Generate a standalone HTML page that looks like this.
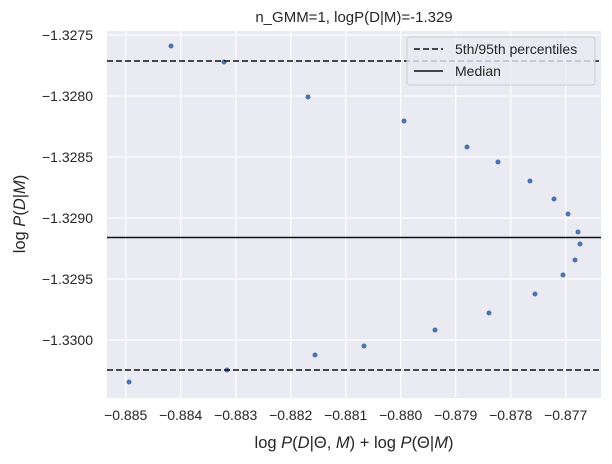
<!DOCTYPE html>
<html><head><style>body{margin:0;background:#fff}svg{display:block}text{font-family:"Liberation Sans",sans-serif;fill:#262626}</style></head><body>
<svg width="612" height="464" viewBox="0 0 612 464">
<rect x="107" y="31" width="494" height="367" fill="#eaeaf2"/>
<g stroke="#fff" stroke-width="1.2">
<line x1="125.7" y1="31" x2="125.7" y2="398"/><line x1="180.7" y1="31" x2="180.7" y2="398"/><line x1="235.7" y1="31" x2="235.7" y2="398"/><line x1="290.7" y1="31" x2="290.7" y2="398"/><line x1="345.7" y1="31" x2="345.7" y2="398"/><line x1="400.7" y1="31" x2="400.7" y2="398"/><line x1="455.7" y1="31" x2="455.7" y2="398"/><line x1="510.7" y1="31" x2="510.7" y2="398"/><line x1="565.7" y1="31" x2="565.7" y2="398"/>
<line x1="107" y1="35" x2="601" y2="35"/><line x1="107" y1="96" x2="601" y2="96"/><line x1="107" y1="157" x2="601" y2="157"/><line x1="107" y1="218" x2="601" y2="218"/><line x1="107" y1="279" x2="601" y2="279"/><line x1="107" y1="340" x2="601" y2="340"/>
</g>
<g fill="#4c72b0">
<circle cx="129" cy="382" r="2.5"/><circle cx="171" cy="46" r="2.5"/><circle cx="224" cy="62" r="2.5"/><circle cx="227" cy="370" r="2.5"/><circle cx="308" cy="97" r="2.5"/><circle cx="315" cy="355" r="2.5"/><circle cx="364" cy="346" r="2.5"/><circle cx="404" cy="121" r="2.5"/><circle cx="435" cy="330" r="2.5"/><circle cx="467" cy="147" r="2.5"/><circle cx="489" cy="313" r="2.5"/><circle cx="498" cy="162" r="2.5"/><circle cx="530" cy="181" r="2.5"/><circle cx="535" cy="294" r="2.5"/><circle cx="554" cy="199" r="2.5"/><circle cx="563" cy="275" r="2.5"/><circle cx="568" cy="214" r="2.5"/><circle cx="575" cy="260" r="2.5"/><circle cx="578" cy="232" r="2.5"/><circle cx="580" cy="244" r="2.5"/>
</g>
<g stroke="#111" stroke-width="1.6">
<line x1="107" y1="61" x2="601" y2="61" stroke-dasharray="6,3"/>
<line x1="107" y1="370" x2="601" y2="370" stroke-dasharray="6,3"/>
<line x1="107" y1="237.5" x2="601" y2="237.5"/>
</g>
<rect x="407" y="37" width="188" height="48" rx="3" fill="#eaeaf2" fill-opacity="0.8" stroke="#ccc"/>
<line x1="414" y1="49" x2="443" y2="49" stroke="#111" stroke-width="1.6" stroke-dasharray="6,3"/>
<line x1="414" y1="71" x2="443" y2="71" stroke="#111" stroke-width="1.6"/>
<text x="455" y="54" font-size="14">5th/95th percentiles</text>
<text x="455" y="76" font-size="14">Median</text>
<g font-size="14" text-anchor="end">
<text x="93" y="40">−1.3275</text><text x="93" y="101">−1.3280</text><text x="93" y="162">−1.3285</text><text x="93" y="223">−1.3290</text><text x="93" y="284">−1.3295</text><text x="93" y="345">−1.3300</text>
</g>
<g font-size="14" text-anchor="middle">
<text x="125.7" y="420">−0.885</text><text x="180.7" y="420">−0.884</text><text x="235.7" y="420">−0.883</text><text x="290.7" y="420">−0.882</text><text x="345.7" y="420">−0.881</text><text x="400.7" y="420">−0.880</text><text x="455.7" y="420">−0.879</text><text x="510.7" y="420">−0.878</text><text x="565.7" y="420">−0.877</text>
<text x="354" y="22" font-size="15">n_GMM=1, logP(D|M)=-1.329</text>
<text x="354" y="448" font-size="16.5">log <tspan font-style="italic">P</tspan>(<tspan font-style="italic">D</tspan>|Θ, <tspan font-style="italic">M</tspan>) + log <tspan font-style="italic">P</tspan>(Θ|<tspan font-style="italic">M</tspan>)</text>
<text transform="translate(25,214) rotate(-90)" font-size="16.5">log <tspan font-style="italic">P</tspan>(<tspan font-style="italic">D</tspan>|<tspan font-style="italic">M</tspan>)</text>
</g>
</svg>
</body></html>
